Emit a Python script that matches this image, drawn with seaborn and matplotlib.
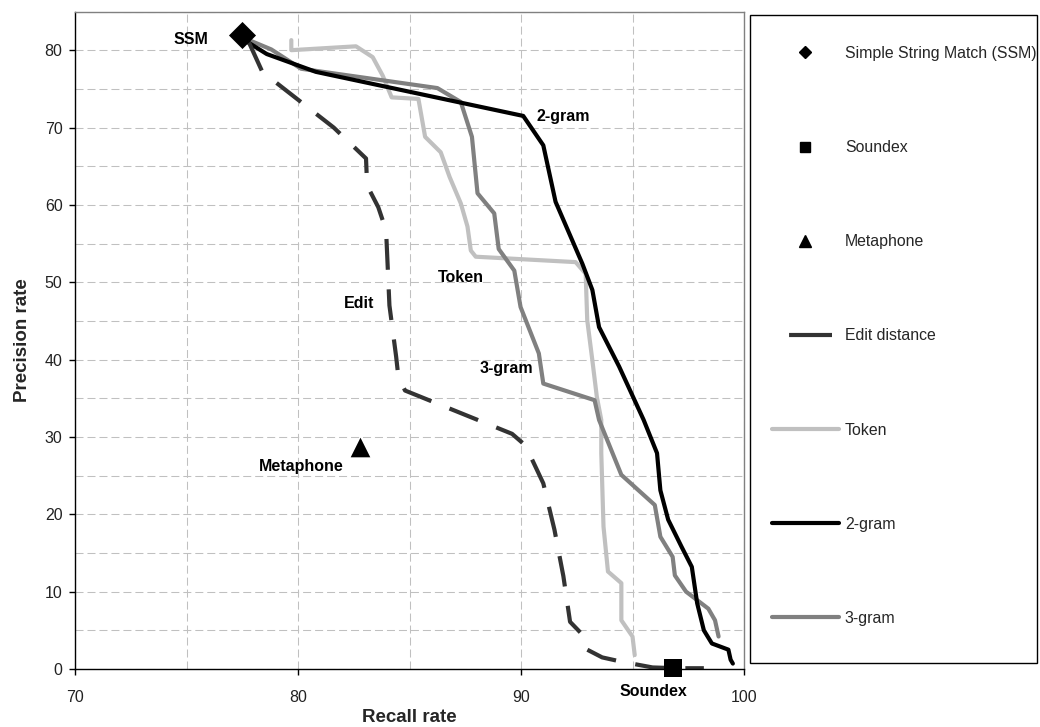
import matplotlib
matplotlib.use("Agg")
import matplotlib.pyplot as plt
import seaborn as sns
import numpy as np
import pandas as pd
from matplotlib.lines import Line2D
from matplotlib.patches import Rectangle
from matplotlib.ticker import MultipleLocator

# ---------------- data ----------------
ssm_x = [77.5]
ssm_y = [82.0]
soundex_x = [96.8]
soundex_y = [0.1]
metaphone_x = [82.8]
metaphone_y = [28.7]

edit_x = [77.8, 78.4, 81.6, 83.05, 83.1, 83.6, 83.95, 84.1, 84.4, 84.5, 84.8,
          89.6, 90.2, 91.0, 91.5, 91.9, 92.2, 92.87, 92.97, 93.64, 94.5, 95.9, 97.0, 98.2]
edit_y = [81.0, 77.2, 70.0, 66.0, 62.5, 59.7, 56.7, 47.0, 40.4, 37.8, 36.0,
          30.4, 28.9, 24.0, 18.0, 12.0, 6.1, 4.1, 2.5, 1.5, 0.95, 0.2, 0.1, 0.1]

token_x = [79.7, 79.7, 82.6, 83.35, 83.8, 84.2, 85.4, 85.7, 86.4, 86.8, 87.3, 87.6,
           87.75, 87.97, 92.45, 92.9, 92.97, 93.2, 93.4, 93.6, 93.6, 93.7, 93.9,
           94.5, 94.5, 95.0, 95.1]
token_y = [81.3, 80.0, 80.5, 79.1, 76.7, 73.9, 73.7, 68.8, 66.8, 63.6, 60.2, 57.2,
           54.1, 53.3, 52.6, 51.1, 45.1, 39.9, 35.2, 32.2, 27.9, 18.4, 12.6,
           11.1, 6.3, 4.2, 1.8]

gram2_x = [77.6, 78.6, 80.8, 90.1, 91.0, 91.55, 92.3, 92.75, 93.2, 93.5, 94.4,
           95.5, 96.1, 96.25, 96.6, 97.2, 97.66, 97.9, 98.2, 98.56, 99.3, 99.4, 99.5]
gram2_y = [81.3, 79.5, 77.2, 71.5, 67.7, 60.4, 55.4, 52.4, 49.0, 44.2, 39.1,
           32.2, 27.9, 23.1, 19.3, 15.8, 13.2, 8.5, 5.0, 3.3, 2.5, 1.2, 0.7]

gram3_x = [77.8, 78.8, 80.14, 86.25, 87.3, 87.8, 88.05, 88.8, 89.0, 89.7, 89.98,
           90.8, 91.0, 93.3, 93.5, 94.5, 96.0, 96.25, 96.8, 96.9, 97.4, 98.4, 98.7, 98.86]
gram3_y = [81.3, 80.1, 77.6, 75.1, 73.3, 68.8, 61.5, 58.9, 54.3, 51.5, 46.8,
           40.8, 36.9, 34.75, 32.2, 25.1, 21.2, 17.1, 14.5, 12.1, 10.0, 7.8, 6.3, 4.2]

legend_labels = ["Simple String Match (SSM)", "Soundex", "Metaphone", "Edit distance",
                 "Token", "2-gram", "3-gram"]
x_ticks = [70, 80, 90, 100]
y_ticks = [0, 10, 20, 30, 40, 50, 60, 70, 80]

# ---------------- style ----------------
sns.set_theme(style="white")
plt.rcParams["font.family"] = ["Liberation Sans", "DejaVu Sans"]

W, H = 1040, 727
fig = plt.figure(figsize=(W / 100, H / 100), dpi=100)
fig.patch.set_facecolor("white")
ax = fig.add_axes([75 / W, (H - 669) / H, (744 - 75) / W, (669 - 11.5) / H])
ax.set_facecolor("white")

c_edit, c_tok, c_2g, c_3g = "#333333", "#c0c0c0", "#000000", "#808080"
lw = 3.0

sns.lineplot(x=token_x, y=token_y, sort=False, estimator=None, color=c_tok, lw=lw, ax=ax)
sns.lineplot(x=gram3_x, y=gram3_y, sort=False, estimator=None, color=c_3g, lw=lw, ax=ax)
sns.lineplot(x=gram2_x, y=gram2_y, sort=False, estimator=None, color=c_2g, lw=lw, ax=ax)
sns.lineplot(x=edit_x, y=edit_y, sort=False, estimator=None, color=c_edit, lw=lw,
             linestyle=(0, (7.4, 4.7)), dash_capstyle="butt", ax=ax)
sns.scatterplot(x=ssm_x, y=ssm_y, marker="D", s=190, color="black", edgecolor="black",
                linewidth=0, ax=ax, zorder=5)
sns.scatterplot(x=soundex_x, y=soundex_y, marker="s", s=180, color="black", edgecolor="black",
                linewidth=0, ax=ax, zorder=5, clip_on=False)
sns.scatterplot(x=metaphone_x, y=metaphone_y, marker="^", s=200, color="black",
                edgecolor="black", linewidth=0, ax=ax, zorder=5)

ax.set_xlim(70, 100)
ax.set_ylim(0, 85)
ax.set_xticks(x_ticks)
ax.set_yticks(y_ticks)
ax.xaxis.set_minor_locator(MultipleLocator(5))
ax.yaxis.set_minor_locator(MultipleLocator(5))
ax.grid(True, which="both", color="#c0c0c0", lw=0.75, linestyle=(0, (7.7, 3.8)))
ax.set_axisbelow(True)
ax.tick_params(which="major", direction="out", length=4, width=1, color="black",
               labelsize=11.5, bottom=True, left=True, labelcolor="#222222")
ax.tick_params(axis="x", pad=11)
ax.tick_params(axis="y", pad=5)
ax.tick_params(which="minor", length=0)
for s in ["left", "bottom"]:
    ax.spines[s].set_color("black")
    ax.spines[s].set_linewidth(1.0)
for s in ["top", "right"]:
    ax.spines[s].set_color("#808080")
    ax.spines[s].set_linewidth(1.0)

ax.set_xlabel("Recall rate", fontsize=13.5, fontweight="bold", labelpad=3)
ax.set_ylabel("Precision rate", fontsize=13.5, fontweight="bold", labelpad=10)

tk = dict(fontsize=11.5, fontweight="bold", ha="center", va="center", color="black")
ax.text(75.2, 81.4, "SSM", **tk)
ax.text(91.9, 71.4, "2-gram", **tk)
ax.text(87.3, 50.6, "Token", **tk)
ax.text(82.75, 47.3, "Edit", **tk)
ax.text(89.35, 38.8, "3-gram", **tk)
ax.text(80.16, 26.2, "Metaphone", **tk)
ax.text(95.95, -2.9, "Soundex", clip_on=False, **tk)

# ---------------- legend ----------------
fig.patches.append(Rectangle((750 / W, (H - 663) / H), (1037 - 750) / W, (663 - 15) / H,
                             transform=fig.transFigure, fill=False, edgecolor="black", lw=1.0))
handles = [
    Line2D([], [], ls="none", marker="D", ms=6.5, color="black"),
    Line2D([], [], ls="none", marker="s", ms=7.5, color="black"),
    Line2D([], [], ls="none", marker="^", ms=8, color="black"),
    Line2D([], [], color=c_edit, lw=lw, linestyle=(30.2, (10.3, 24.0)), dash_capstyle="butt"),
    Line2D([], [], color=c_tok, lw=lw),
    Line2D([], [], color=c_2g, lw=lw),
    Line2D([], [], color=c_3g, lw=lw),
]
fig.legend(handles, legend_labels, loc="center left",
           bbox_to_anchor=(772 / W, (H - 336) / H), bbox_transform=fig.transFigure,
           frameon=False, fontsize=11.4, borderpad=0, borderaxespad=0,
           handlelength=4.2, handletextpad=0.4, labelspacing=5.0)

fig.savefig("out.png", dpi=100, facecolor="white")
